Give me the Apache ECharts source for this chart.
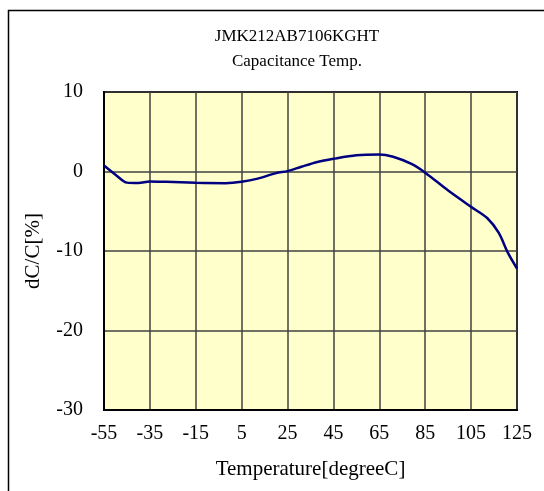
<!DOCTYPE html>
<html>
<head>
<meta charset="utf-8">
<script src="https://cdn.jsdelivr.net/npm/echarts@6/dist/echarts.min.js"></script>
<style>
  html, body { margin: 0; padding: 0; background: #fff; }
  #chart { width: 544px; height: 491px; }
</style>
</head>
<body>
<div id="chart"></div>
<script>
// temperature points (degC)
var temps = [-55, -50, -45, -40, -35, -28, -15, -2, 5, 12, 20, 25, 31, 38, 45, 55, 65, 71, 79, 85, 95, 105, 112, 117, 121, 125];
// capacitance change dC/C (%)
var dcc = [0.75, -0.4, -1.4, -1.45, -1.25, -1.3, -1.42, -1.47, -1.3, -0.9, -0.2, 0.05, 0.6, 1.2, 1.6, 2.05, 2.15, 1.85, 0.95, -0.15, -2.4, -4.45, -5.85, -7.7, -10.2, -12.2];
var titleLines = ['JMK212AB7106KGHT', 'Capacitance Temp.'];

var serif = "'Liberation Serif', 'Times New Roman', serif";

var pts = [];
for (var i = 0; i < temps.length; i++) {
  pts.push([temps[i], dcc[i]]);
}

var chart = echarts.init(document.getElementById('chart'));
chart.setOption({
  animation: false,
  title: {
    text: titleLines.join('\n'),
    left: 297,
    top: 24,
    padding: 0,
    textAlign: 'center',
    textStyle: {
      fontFamily: serif,
      fontSize: 17,
      fontWeight: 'normal',
      color: '#000',
      lineHeight: 25
    }
  },
  graphic: [
    {
      type: 'rect',
      shape: { x: 8.5, y: 10.5, width: 700, height: 700 },
      style: { fill: 'none', stroke: '#000', lineWidth: 1.5 },
      silent: true
    }
  ],
  grid: {
    left: 104,
    right: 27,
    top: 92,
    bottom: 81,
    show: true,
    backgroundColor: '#FFFFCC',
    borderColor: '#000',
    borderWidth: 2
  },
  xAxis: {
    type: 'value',
    min: -55,
    max: 125,
    interval: 20,
    name: 'Temperature[degreeC]',
    nameLocation: 'middle',
    nameGap: 49,
    nameTextStyle: { fontFamily: serif, fontSize: 21, color: '#000' },
    axisLine: { show: true, onZero: false, lineStyle: { color: '#000', width: 2 } },
    axisTick: { show: false },
    axisLabel: { fontFamily: serif, fontSize: 20, color: '#000', margin: 14 },
    splitLine: { show: true, lineStyle: { color: '#404040', width: 1.5 } }
  },
  yAxis: {
    type: 'value',
    min: -30,
    max: 10,
    interval: 10,
    name: 'dC/C[%]',
    nameLocation: 'middle',
    nameGap: 60,
    nameTextStyle: { fontFamily: serif, fontSize: 21, color: '#000' },
    axisLine: { show: true, onZero: false, lineStyle: { color: '#000', width: 2 } },
    axisTick: { show: false },
    axisLabel: { fontFamily: serif, fontSize: 20, color: '#000', margin: 21 },
    splitLine: { show: true, lineStyle: { color: '#404040', width: 1.5 } }
  },
  series: [
    {
      type: 'line',
      data: pts,
      smooth: 0.3,
      showSymbol: false,
      lineStyle: { color: '#000080', width: 2.5 }
    }
  ]
});
</script>
</body>
</html>
